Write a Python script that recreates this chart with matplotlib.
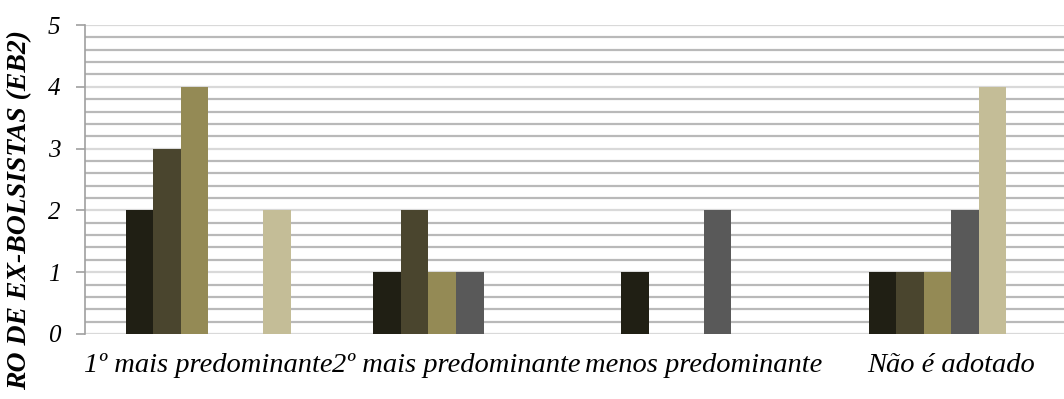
import matplotlib
matplotlib.use("Agg")
import matplotlib.pyplot as plt
import numpy as np
from matplotlib import font_manager as fm
from matplotlib.ticker import MultipleLocator

categories = ["1º mais predominante", "2º mais predominante",
              "menos predominante", "Não é adotado"]
serie_1 = [2, 1, 1, 1]
serie_2 = [3, 2, 0, 1]
serie_3 = [4, 1, 0, 1]
serie_4 = [0, 1, 2, 2]
serie_5 = [0, 0, 0, 4]
serie_6 = [2, 0, 0, 0]
series = [serie_1, serie_2, serie_3, serie_4, serie_5, serie_6]
colors = ["#201f14", "#4a452e", "#948a55", "#595959", "#c4bd97", "#c4bd97"]
y_ticks = [0, 1, 2, 3, 4, 5]
y_title = "RO DE EX-BOLSISTAS (EB2)"


def serif_font(size, weight="normal"):
    # Load the italic serif face straight from its file
    path = fm.findfont(fm.FontProperties(family="Liberation Serif",
                                         style="italic", weight=weight))
    return fm.FontProperties(fname=path, size=size)


W, H = 1064, 399
fig = plt.figure(figsize=(W / 100, H / 100), dpi=100)
left, right, top, bottom = 84.6, 1075.0, 25.0, 334.0
ax = fig.add_axes([left / W, 1 - bottom / H, (right - left) / W, (bottom - top) / H])

# Clustered bars: six slots per category with a gap of three bar widths
n = len(series)
gap = 3.0
bw = 1.0 / (n + gap)
x = np.arange(len(categories))
for i, (vals, c) in enumerate(zip(series, colors)):
    offs = (i - (n - 1) / 2) * bw
    ax.bar(x + offs, vals, width=bw, color=c, zorder=3, linewidth=0)

ax.set_xlim(-0.5, len(categories) - 0.5)
ax.set_ylim(0, 5)
ax.set_yticks(y_ticks)
ax.set_yticklabels([str(t) for t in y_ticks], fontproperties=serif_font(18))
ax.yaxis.set_minor_locator(MultipleLocator(0.2))
ax.grid(which="minor", axis="y", color="#b9b9b9", linewidth=1.6, zorder=1)
ax.grid(which="major", axis="y", color="#d9d9d9", linewidth=1.6, zorder=1)
ax.tick_params(axis="y", which="major", length=6.5, width=1.2, color="#a0a0a0", pad=11)
ax.tick_params(axis="y", which="minor", length=0)
ax.set_xticks(x)
ax.set_xticklabels(categories, fontproperties=serif_font(20.5))
ax.tick_params(axis="x", length=0, pad=14)

for s in ["top", "right", "bottom"]:
    ax.spines[s].set_visible(False)
ax.spines["left"].set_color("#a0a0a0")
ax.spines["left"].set_linewidth(1.2)

fig.text(20 / W, 1 - 30 / H, y_title, rotation=90,
         fontproperties=serif_font(20, "bold"), ha="center", va="top")

fig.savefig("out.png", dpi=100)
